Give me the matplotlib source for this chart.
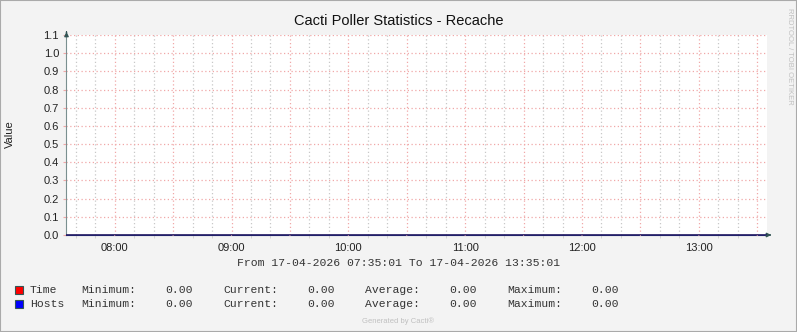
import matplotlib.pyplot as plt
from matplotlib.patches import Rectangle

# Data (hours of day), all series flat at zero
t_start = 7 + 35 / 60
t_end = 13 + 35 / 60
times = [t_start, t_end]
time_vals = [0.0, 0.0]
hosts_vals = [0.0, 0.0]

hour_ticks = [8, 9, 10, 11, 12, 13]
hour_labels = ['08:00', '09:00', '10:00', '11:00', '12:00', '13:00']
y_ticks = [0.0, 0.1, 0.2, 0.3, 0.4, 0.5, 0.6, 0.7, 0.8, 0.9, 1.0, 1.1]

series_names = ['Time', 'Hosts']
series_colors = ['#FF0000', '#0000FF']
stat_names = ['Minimum:', 'Current:', 'Average:', 'Maximum:']
stat_vals = [['0.00', '0.00', '0.00', '0.00'],
             ['0.00', '0.00', '0.00', '0.00']]

W, H = 797, 332
fig = plt.figure(figsize=(W / 100, H / 100), dpi=100)
fig.patch.set_facecolor('#F3F3F3')

def fx(px):
    return px / W

def fy(py):
    return 1 - py / H

# frame around the image
fig.add_artist(Rectangle((0, 0), 1, 1, transform=fig.transFigure, fill=False,
                         edgecolor='#AAAAAA', linewidth=1.5))

x0, x1, ytop, ybot = 66, 767, 35, 235
ax = fig.add_axes([fx(x0), fy(ybot), fx(x1 - x0), (ybot - ytop) / H])
ax.set_facecolor('white')
ax.set_xlim(t_start, t_end)
ax.set_ylim(0, 1.1)

# grid: minor every 10 min grey, major every 30 min red
minor_x = [7 + i / 6 for i in range(40)]
minor_x = [m for m in minor_x if t_start < m < t_end]
major_x = [7.5 + i * 0.5 for i in range(14)]
major_x = [m for m in major_x if t_start < m < t_end]
minor_x = [m for m in minor_x if min(abs(m - M) for M in major_x) > 0.01]
dot = (0, (1, 2))
for m in minor_x:
    ax.axvline(m, color='#C8C8C8', linestyle=dot, linewidth=0.9, zorder=1)
for m in major_x:
    ax.axvline(m, color='#F0A8A8', linestyle=dot, linewidth=0.9, zorder=1)
for yv in y_ticks[1:]:
    ax.axhline(yv, color='#F0A8A8', linestyle=dot, linewidth=0.9, zorder=1)

ax.plot(times, time_vals, color=series_colors[0], linewidth=1, zorder=3)
ax.plot(times, hosts_vals, color='#20206A', linewidth=1.2, zorder=4)

for s in ['top', 'right']:
    ax.spines[s].set_visible(False)
ax.spines['left'].set_color('#7A9090')
ax.spines['bottom'].set_color('#20206A')

ax.set_xticks(hour_ticks)
ax.set_xticklabels(hour_labels)
ax.set_xticks(minor_x, minor=True)
ax.set_yticks(y_ticks)
ax.set_yticklabels([f'{v:.1f}' for v in y_ticks])
ax.tick_params(axis='x', which='major', length=0, pad=6, labelsize=8)
ax.tick_params(axis='x', which='minor', length=2, color='#D0D0D0')
ax.tick_params(axis='y', length=2, color='#F0A8A8', pad=3, labelsize=8)
for m in major_x:
    ax.annotate('', xy=(m, 0), xytext=(m, -0.015),
                xycoords=('data', 'axes fraction'),
                textcoords=('data', 'axes fraction'),
                arrowprops=dict(arrowstyle='-', color='#F0A8A8', lw=0.9))
for lab in ax.get_xticklabels() + ax.get_yticklabels():
    lab.set_fontfamily('Liberation Sans')
    lab.set_color('#222222')

# axis arrows
ax.annotate('', xy=(fx(x0 + 0.5), fy(29)), xytext=(fx(x0 + 0.5), fy(ytop)),
            xycoords='figure fraction',
            arrowprops=dict(arrowstyle='-|>', color='#335555', lw=1,
                            mutation_scale=6))
ax.annotate('', xy=(fx(774), fy(ybot)), xytext=(fx(x1), fy(ybot)),
            xycoords='figure fraction',
            arrowprops=dict(arrowstyle='-|>', color='#335555', lw=1,
                            mutation_scale=6))

fig.text(0.5, fy(21), 'Cacti Poller Statistics - Recache', ha='center',
         va='center', fontsize=10.5, family='Liberation Sans', color='#111111')
fig.text(fx(10), fy(134), 'Value', rotation=90, ha='center', va='center',
         fontsize=8, family='Liberation Sans', color='#222222')
fig.text(fx(789), fy(8), 'RRDTOOL / TOBI OETIKER', rotation=-90, ha='center',
         va='top', fontsize=5.5, family='Liberation Sans', color='#C0C0C0')
fig.text(0.5, fy(263), 'From 17-04-2026 07:35:01 To 17-04-2026 13:35:01',
         ha='center', va='center', fontsize=8.2, family='Liberation Mono',
         color='#333333')

rows_y = [290, 304]
for i, name in enumerate(series_names):
    yy = rows_y[i]
    fig.add_artist(Rectangle((fx(15), fy(yy + 4)), 8 / W, 8 / H,
                             transform=fig.transFigure,
                             facecolor=series_colors[i], edgecolor='#335555',
                             linewidth=0.8))
    fig.text(fx(30), fy(yy), name, ha='left', va='center', fontsize=8.2,
             family='Liberation Mono', color='#333333')
    for j, st in enumerate(stat_names):
        xs = 81 + j * 142
        fig.text(fx(xs), fy(yy), st, ha='left', va='center', fontsize=8.2,
                 family='Liberation Mono', color='#333333')
        fig.text(fx(xs + 84), fy(yy), stat_vals[i][j], ha='left', va='center',
                 fontsize=8.2, family='Liberation Mono', color='#333333')

fig.text(0.5, fy(321), 'Generated by Cacti\u00ae', ha='center', va='center',
         fontsize=5.5, family='Liberation Sans', color='#C0C0C0')

fig.savefig('out.png', dpi=100, facecolor=fig.get_facecolor())
